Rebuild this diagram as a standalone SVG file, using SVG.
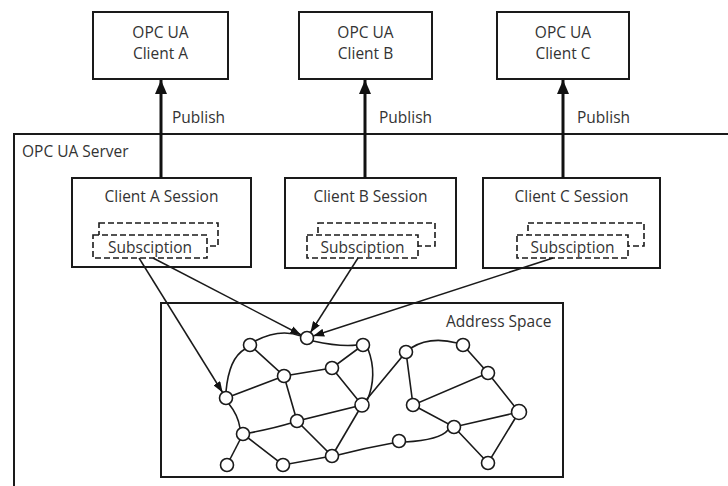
<svg xmlns="http://www.w3.org/2000/svg" width="728" height="486" viewBox="0 0 728 486">
<defs>
<style>
.box{fill:#fff;stroke:#1a1a1a;stroke-width:2}
.dash{fill:#fff;stroke:#1a1a1a;stroke-width:1.6;stroke-dasharray:6,3}
.t{font-family:"Open Sans","Noto Sans",sans-serif;font-size:15.5px;fill:#333}
.c{text-anchor:middle}
.pub{stroke:#111;stroke-width:3;fill:none}
.ref{stroke:#1a1a1a;stroke-width:1.5;fill:none}
.e{stroke:#1a1a1a;stroke-width:1.6;fill:none}
.n{fill:#fff;stroke:#1a1a1a;stroke-width:1.6}
</style>
<marker id="bigHead" markerUnits="userSpaceOnUse" markerWidth="14" markerHeight="12" refX="14" refY="6" orient="auto">
<path d="M0,0 L14,6 L0,12 z" fill="#111"/>
</marker>
<marker id="head" markerUnits="userSpaceOnUse" markerWidth="11" markerHeight="8" refX="11" refY="4" orient="auto">
<path d="M0,0 L11,4 L0,8 z" fill="#111"/>
</marker>
</defs>
<rect width="728" height="486" fill="#fff"/>

<g id="server">
<rect class="box" x="14" y="134" width="740" height="370"/>
<text class="t" x="22" y="157">OPC UA Server</text>
</g>

<g id="client-a">
<rect class="box" x="93" y="12" width="135" height="67"/>
<text class="t c" x="160.5" y="38">OPC UA</text>
<text class="t c" x="160.5" y="59">Client A</text>
</g>
<g id="client-b">
<rect class="box" x="299" y="12" width="133" height="67"/>
<text class="t c" x="365.5" y="38">OPC UA</text>
<text class="t c" x="365.5" y="59">Client B</text>
</g>
<g id="client-c">
<rect class="box" x="497" y="12" width="132" height="67"/>
<text class="t c" x="563" y="38">OPC UA</text>
<text class="t c" x="563" y="59">Client C</text>
</g>

<g id="session-a">
<rect class="box" x="72" y="178" width="179" height="89"/>
<text class="t c" x="161.5" y="202">Client A Session</text>
<rect class="dash" x="99" y="223" width="119" height="23"/>
<rect class="dash" x="93" y="235" width="114" height="23"/>
<text class="t c" x="150" y="252.5">Subsciption</text>
</g>
<g id="session-b">
<rect class="box" x="285" y="178" width="171" height="90"/>
<text class="t c" x="370.5" y="202">Client B Session</text>
<rect class="dash" x="318" y="223" width="117" height="23"/>
<rect class="dash" x="307" y="235" width="111" height="23"/>
<text class="t c" x="362.5" y="252.5">Subsciption</text>
</g>
<g id="session-c">
<rect class="box" x="483" y="178" width="177" height="90"/>
<text class="t c" x="571.5" y="202">Client C Session</text>
<rect class="dash" x="528" y="223" width="116" height="23"/>
<rect class="dash" x="517" y="235" width="111" height="23"/>
<text class="t c" x="572.5" y="252.5">Subsciption</text>
</g>

<g id="address-space">
<rect class="box" x="161" y="303" width="402" height="174"/>
<text class="t" x="446" y="327">Address Space</text>
</g>

<g id="connectors">
<line class="pub" x1="161" y1="178" x2="161" y2="80" marker-end="url(#bigHead)"/>
<line class="pub" x1="365" y1="178" x2="365" y2="80" marker-end="url(#bigHead)"/>
<line class="pub" x1="563" y1="178" x2="563" y2="80" marker-end="url(#bigHead)"/>
<text class="t" x="172" y="123">Publish</text>
<text class="t" x="379" y="123">Publish</text>
<text class="t" x="577" y="123">Publish</text>
<line class="ref" x1="139" y1="258" x2="222.6" y2="392.5" marker-end="url(#head)"/>
<line class="ref" x1="153" y1="258" x2="301.2" y2="335" marker-end="url(#head)"/>
<line class="ref" x1="358" y1="258" x2="310.5" y2="332.5" marker-end="url(#head)"/>
<line class="ref" x1="553" y1="258" x2="313.2" y2="336" marker-end="url(#head)"/>
</g>

<g id="graph-edges">
<path class="e" d="M226,391.5 Q229,358 245,349"/>
<path class="e" d="M255,341 Q280,328 301,336"/>
<path class="e" d="M313,341 Q340,347 357,345"/>
<path class="e" d="M368,349 Q378,375 367,401"/>
<path class="e" d="M250,345 L284,376 L226,398"/>
<path class="e" d="M284,376 L332,368 L363,345"/>
<path class="e" d="M284,376 L297,421 L362,405 L332,368"/>
<path class="e" d="M229,404 Q238,415 240,428"/>
<path class="e" d="M249,433 Q275,428 291,423"/>
<path class="e" d="M243,434 L227,465"/>
<path class="e" d="M243,434 L283,465 L332,456 L297,421"/>
<path class="e" d="M332,456 L362,405"/>
<path class="e" d="M338,455 Q365,448 393,443"/>
<path class="e" d="M405,442 Q440,440 448,430"/>
<path class="e" d="M362,405 L406,352 L413,405"/>
<path class="e" d="M411,348 Q430,336 457,343"/>
<path class="e" d="M463,345 L488,373 L413,405 L454,427 L519,412 L488,373"/>
<path class="e" d="M454,427 L488,463 L519,412"/>
</g>

<g id="graph-nodes">
<circle id="v1" class="n" cx="250" cy="345" r="6.5"/>
<circle id="v2" class="n" cx="307" cy="338" r="6.5"/>
<circle id="v3" class="n" cx="363" cy="345" r="6.5"/>
<circle id="v4" class="n" cx="284" cy="376" r="6.5"/>
<circle id="v5" class="n" cx="332" cy="368" r="6.5"/>
<circle id="v6" class="n" cx="226" cy="398" r="6.5"/>
<circle id="v7" class="n" cx="362" cy="405" r="7"/>
<circle id="v8" class="n" cx="297" cy="421" r="6.5"/>
<circle id="v9" class="n" cx="243" cy="434" r="6.5"/>
<circle id="v10" class="n" cx="332" cy="456" r="6.5"/>
<circle id="v11" class="n" cx="227" cy="465" r="6.5"/>
<circle id="v12" class="n" cx="283" cy="465" r="6.5"/>
<circle id="v13" class="n" cx="406" cy="352" r="6.5"/>
<circle id="v14" class="n" cx="463" cy="345" r="6.5"/>
<circle id="v15" class="n" cx="488" cy="373" r="6.5"/>
<circle id="v16" class="n" cx="413" cy="405" r="6.5"/>
<circle id="v17" class="n" cx="519" cy="412" r="7.5"/>
<circle id="v18" class="n" cx="454" cy="427" r="6.5"/>
<circle id="v19" class="n" cx="399" cy="441" r="6.5"/>
<circle id="v20" class="n" cx="488" cy="463" r="6.5"/>
</g>
</svg>
